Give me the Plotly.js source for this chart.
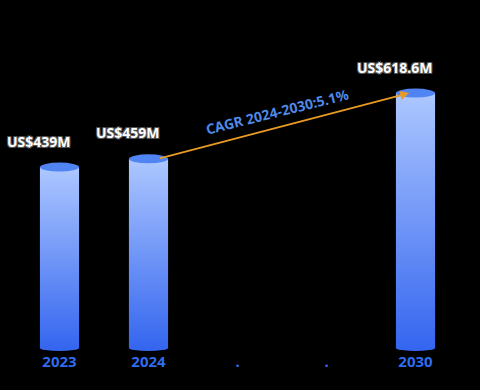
<!DOCTYPE html>
<html><head><meta charset="utf-8">
<script src="https://cdn.plot.ly/plotly-3.0.1.min.js"></script>
<style>html,body{margin:0;padding:0;background:#000;}#chart{width:480px;height:390px;}</style>
</head><body><div id="chart"></div>
<script>
const categories = ['2023', '2024', '.', '.', '2030'];
const values = [439, 459, null, null, 618.6];
const valueLabels = ['US$439M', 'US$459M', '', '', 'US$618.6M'];
const cagrText = 'CAGR 2024-2030:5.1%';
const cagrFrom = 1, cagrTo = 4;

const halfW = 0.22;
const traces = [];
const shapes = [];
const annotations = [];
values.forEach((v, i) => {
  if (v === null) return;
  traces.push({
    type: 'scatter', mode: 'lines',
    x: [i - halfW, i + halfW, i + halfW, i - halfW, i - halfW],
    y: [0, 0, v, v, 0],
    fill: 'toself', line: {width: 0, color: 'rgba(0,0,0,0)'},
    fillgradient: {type: 'vertical', colorscale: [[0, '#3566ef'], [1, '#adc7ff']]},
    hoverinfo: 'skip', showlegend: false
  });
  // bottom cap
  shapes.push({type: 'circle', xref: 'x', yref: 'y', xsizemode: 'scaled', ysizemode: 'pixel',
    yanchor: 0, x0: i - halfW, x1: i + halfW, y0: -3, y1: 3,
    fillcolor: '#3566ef', line: {width: 0}, layer: 'below'});
  // top cap
  shapes.push({type: 'circle', xref: 'x', yref: 'y', xsizemode: 'scaled', ysizemode: 'pixel',
    yanchor: v, x0: i - halfW, x1: i + halfW, y0: -4.5, y1: 4.5,
    fillcolor: '#4f84f2', line: {width: 0}, layer: 'above'});
  annotations.push({x: i, y: v, xref: 'x', yref: 'y', text: '<b>' + valueLabels[i] + '</b>',
    showarrow: false, xshift: -21, yshift: 26,
    font: {family: 'Noto Sans, DejaVu Sans, sans-serif', size: 14, color: '#ffffff',
      shadow: '1px 1px 0 #555, -1px -1px 0 #555, 1px -1px 0 #555, -1px 1px 0 #555'}});
});
annotations.push({x: cagrTo - 0.07, y: values[cagrTo], ax: cagrFrom + 0.11, ay: values[cagrFrom],
  xref: 'x', yref: 'y', axref: 'x', ayref: 'y', text: '', showarrow: true,
  arrowhead: 2, arrowsize: 1, arrowwidth: 1.8, arrowcolor: '#e99a22'});
annotations.push({x: (cagrFrom + cagrTo) / 2 - 0.05, y: (values[cagrFrom] + values[cagrTo]) / 2 + 34,
  xref: 'x', yref: 'y', text: '<b>' + cagrText + '</b>', showarrow: false, textangle: -14,
  font: {family: 'Noto Sans, DejaVu Sans, sans-serif', size: 14, color: '#4f88e6'}});

const layout = {
  width: 480, height: 390,
  paper_bgcolor: '#000', plot_bgcolor: '#000',
  margin: {l: 15, r: 20, t: 66, b: 39},
  xaxis: {range: [-0.5, 4.5], tickvals: categories.map((c, i) => i), ticktext: categories,
    showgrid: false, zeroline: false, showline: false, ticks: '', fixedrange: true,
    tickfont: {family: 'Noto Sans, DejaVu Sans, sans-serif', size: 15, color: '#2f6cf0', weight: 'bold'}},
  yaxis: {range: [-7.3, 684.4], visible: false, showgrid: false, zeroline: false, fixedrange: true},
  shapes: shapes, annotations: annotations, showlegend: false
};
Plotly.newPlot('chart', traces, layout, {displayModeBar: false, staticPlot: true});
</script></body></html>
